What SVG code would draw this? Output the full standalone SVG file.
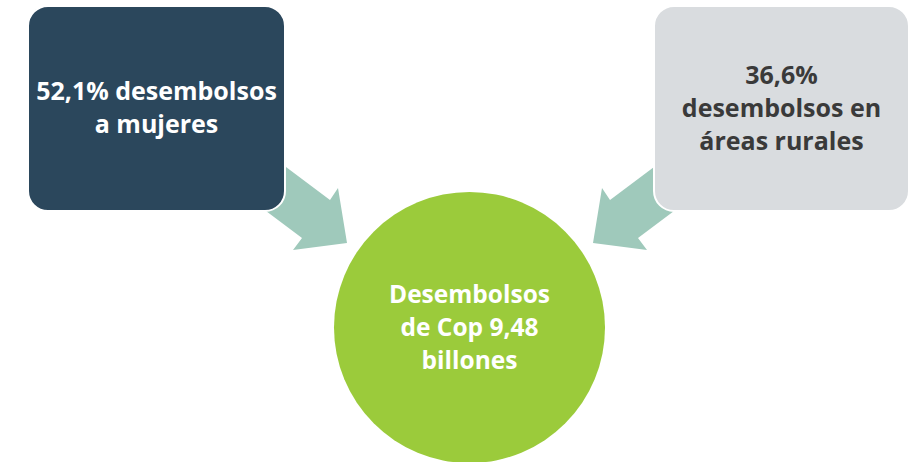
<svg xmlns="http://www.w3.org/2000/svg" width="912" height="462" viewBox="0 0 912 462">
<style>
.arrow{fill:#9FC9BB}
.box{stroke:#FFFFFF;stroke-width:2}
.t{font-family:"Open Sans","DejaVu Sans",sans-serif;font-weight:700;font-size:25px;text-anchor:middle}
.c{font-size:24.5px}
</style>
<rect width="912" height="462" fill="#FFFFFF"/>
<g id="connectors">
<polygon class="arrow" points="266,152 330,200 338,188 347,243 293,250 302,238 238,190"/>
<polygon class="arrow" points="674,152 610,200 602,188 593,243 647,250 638,238 702,190"/>
</g>
<g id="node-mujeres">
<rect class="box" x="28" y="6" width="257" height="205" rx="20" fill="#2B475C"/>
<text class="t" fill="#FFFFFF"><tspan x="156.5" y="100">52,1% desembolsos</tspan><tspan x="156.5" y="133">a mujeres</tspan></text>
</g>
<g id="node-rurales">
<rect class="box" x="654" y="6" width="255" height="205" rx="20" fill="#D9DCDF"/>
<text class="t" fill="#3A3A3A"><tspan x="781.5" y="84">36,6%</tspan><tspan x="781.5" y="117">desembolsos en</tspan><tspan x="781.5" y="150">áreas rurales</tspan></text>
</g>
<g id="node-total">
<circle cx="469.5" cy="327.5" r="135.5" fill="#9BCB3B"/>
<text class="t c" fill="#FFFFFF"><tspan x="469.5" y="303">Desembolsos</tspan><tspan x="469.5" y="336">de Cop 9,48</tspan><tspan x="469.5" y="369">billones</tspan></text>
</g>
</svg>
